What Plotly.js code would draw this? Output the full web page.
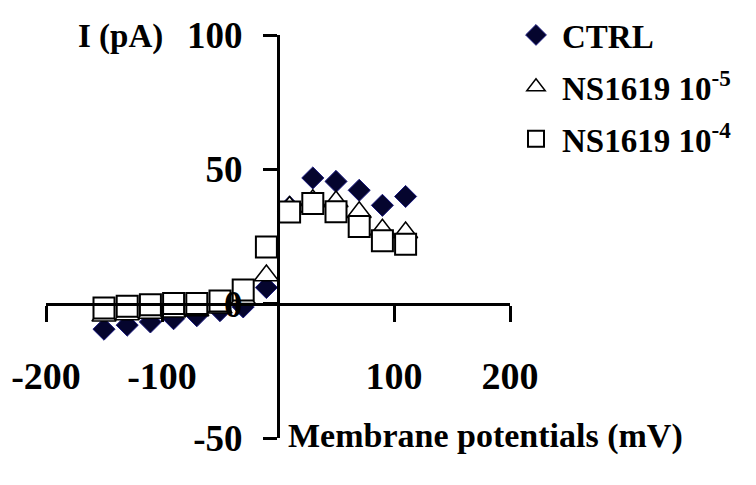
<!DOCTYPE html>
<html>
<head>
<meta charset="utf-8">
<script src="https://cdn.plot.ly/plotly-3.0.1.min.js"></script>
<style>html,body{margin:0;padding:0;background:#fff;}#chart{width:756px;height:485px;}</style>
</head>
<body>
<div id="chart"></div>
<script>
// Membrane potential (mV)
const voltages = [-150, -130, -110, -90, -70, -50, -30, -10, 10, 30, 50, 70, 90, 110];
// Current (pA)
const ctrl   = [-9.5, -8, -6.8, -5.6, -4.5, -2.6, -1.2, 6, 36, 46.8, 45.5, 42.2, 36.6, 39.9];
const ns1e5  = [-4.5, -4, -3.5, -3, -2.5, -1.5, 2, 10.5, 36, 38.5, 38, 34, 27.5, 26.5];
const ns1e4  = [-1.6, -1.0, -0.4, 0.1, 0.1, 1.0, 5.1, 21.1, 34.1, 37.3, 34.2, 28.7, 23.4, 22.1];
const seriesNames = ['<b>CTRL</b>', '<b>NS1619 10<sup>-5</sup></b>', '<b>NS1619 10<sup>-4</sup></b>'];
const xTicks = [-200, -100, 100, 200];
const yTicks = [-50, 0, 50, 100];

const serif = 'Liberation Serif, Times New Roman, serif';

const traces = [
  {x: voltages, y: ctrl, name: seriesNames[0], mode: 'markers', type: 'scatter', legendgroup: 'a',
   marker: {symbol: 'diamond', size: 17, color: '#05052e', line: {color: '#1c1c80', width: 1}}},
  {x: voltages, y: ns1e5, name: seriesNames[1], mode: 'markers', type: 'scatter', legendgroup: 'b',
   marker: {symbol: 'triangle-up', size: 21, color: '#ffffff', line: {color: '#000000', width: 1.5}}},
  {x: voltages, y: ns1e4, name: seriesNames[2], mode: 'markers', type: 'scatter', legendgroup: 'c',
   marker: {symbol: 'square', size: 21, color: '#ffffff', line: {color: '#000000', width: 2}}}
];

const layout = {
  width: 756, height: 485,
  margin: {l: 46, r: 246, t: 35, b: 47},
  paper_bgcolor: '#ffffff', plot_bgcolor: 'rgba(0,0,0,0)',
  font: {family: serif, color: '#000000'},
  showlegend: true,
  legend: {xref: 'container', yref: 'container', x: 510 / 756, y: 1 - 7 / 485, xanchor: 'left', yanchor: 'top',
           tracegroupgap: 6, itemwidth: 42,
           font: {family: serif, size: 33, color: '#000'}, bgcolor: 'rgba(0,0,0,0)'},
  xaxis: {range: [-200, 200], anchor: 'free', position: 1/3, showgrid: false, zeroline: false,
          showline: true, linecolor: '#000', linewidth: 3, ticks: 'outside', ticklen: 16, tickwidth: 3,
          tickcolor: '#000', tickvals: xTicks, ticktext: xTicks.map(String), ticklabelstandoff: 22,
          tickfont: {family: serif, size: 38, color: '#000', weight: 'bold'}, fixedrange: true},
  yaxis: {range: [-50, 100], anchor: 'free', position: 0.5, showgrid: false, zeroline: false,
          showline: true, linecolor: '#000', linewidth: 3, ticks: 'outside', ticklen: 14, tickwidth: 3,
          tickcolor: '#000', tickvals: yTicks, ticktext: yTicks.map(String), ticklabelstandoff: 13,
          tickfont: {family: serif, size: 37, color: '#000', weight: 'bold'}, fixedrange: true},
  annotations: [
    {text: '<b>I (pA)</b>', xref: 'paper', yref: 'paper', x: (76 - 46) / 464, y: (438 - 36) / 403,
     xanchor: 'left', yanchor: 'middle', showarrow: false, font: {family: serif, size: 33, color: '#000'}},
    {text: '<b>Membrane potentials (mV)</b>', xref: 'paper', yref: 'paper', x: (286 - 46) / 464, y: (438 - 436) / 403,
     xanchor: 'left', yanchor: 'middle', showarrow: false, font: {family: serif, size: 34, color: '#000'}}
  ]
};

Plotly.newPlot('chart', traces, layout, {displayModeBar: false, staticPlot: true});
</script>
</body>
</html>
